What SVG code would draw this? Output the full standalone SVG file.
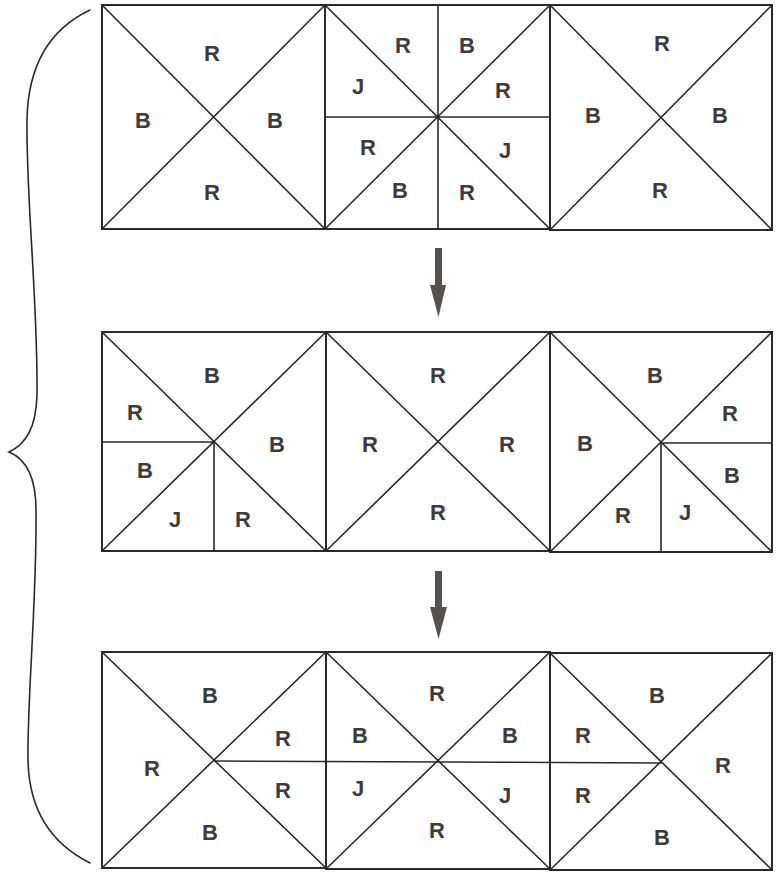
<svg xmlns="http://www.w3.org/2000/svg" width="781" height="874" viewBox="0 0 781 874">
<style>
.ln{stroke:#2a2a2a;stroke-width:1.6;fill:none;stroke-linecap:round}
.bd{stroke:#2a2a2a;stroke-width:2;fill:none}
.t{font-family:"Liberation Sans",Arial,sans-serif;font-weight:bold;font-size:22px;fill:#3c3c3c;text-anchor:middle}
.ar{fill:#565050}
</style>
<rect width="781" height="874" fill="#ffffff"/>
<g id="brace">
<path class="ln" stroke-width="2" d="M90,10 C52,28 28,62 27,120 C26,200 38,300 37,395 C36,428 26,444 9,452 C26,459 36,476 36,510 C37,600 27,700 28,760 C29,815 56,846 90,863"/>
</g>
<g id="row1">
<g id="r1s1">
<rect class="bd" x="102" y="5" width="223" height="224"/>
<path class="ln" d="M102,5 L325,229 M325,5 L102,229"/>
<text class="t" x="212" y="61">R</text>
<text class="t" x="143" y="128">B</text>
<text class="t" x="275" y="128">B</text>
<text class="t" x="212" y="200">R</text>
</g>
<g id="r1s2">
<rect class="bd" x="325" y="5" width="225" height="224"/>
<path class="ln" d="M325,5 L550,229 M550,5 L325,229 M438,5 L438,229 M325,117 L550,117"/>
<text class="t" x="403" y="53">R</text>
<text class="t" x="467" y="53">B</text>
<text class="t" x="358" y="94">J</text>
<text class="t" x="503" y="98">R</text>
<text class="t" x="368" y="155">R</text>
<text class="t" x="505" y="158">J</text>
<text class="t" x="400" y="198">B</text>
<text class="t" x="467" y="200">R</text>
</g>
<g id="r1s3">
<rect class="bd" x="550" y="5" width="222" height="225"/>
<path class="ln" d="M550,5 L772,230 M772,5 L550,230"/>
<text class="t" x="662" y="51">R</text>
<text class="t" x="593" y="123">B</text>
<text class="t" x="720" y="123">B</text>
<text class="t" x="660" y="198">R</text>
</g>
</g>
<g id="row2">
<g id="r2s1">
<rect class="bd" x="102" y="332" width="224" height="219"/>
<path class="ln" d="M102,332 L326,551 M326,332 L102,551 M102,442 L214,442 L214,551"/>
<text class="t" x="212" y="383">B</text>
<text class="t" x="135" y="420">R</text>
<text class="t" x="277" y="452">B</text>
<text class="t" x="145" y="478">B</text>
<text class="t" x="175" y="527">J</text>
<text class="t" x="243" y="527">R</text>
</g>
<g id="r2s2">
<rect class="bd" x="326" y="332" width="224" height="219"/>
<path class="ln" d="M326,332 L550,551 M550,332 L326,551"/>
<text class="t" x="438" y="383">R</text>
<text class="t" x="370" y="452">R</text>
<text class="t" x="507" y="452">R</text>
<text class="t" x="438" y="520">R</text>
</g>
<g id="r2s3">
<rect class="bd" x="550" y="332" width="222" height="220"/>
<path class="ln" d="M550,332 L772,552 M772,332 L550,552 M772,443 L661,443 L661,552"/>
<text class="t" x="655" y="383">B</text>
<text class="t" x="730" y="421">R</text>
<text class="t" x="585" y="451">B</text>
<text class="t" x="732" y="483">B</text>
<text class="t" x="623" y="523">R</text>
<text class="t" x="685" y="520">J</text>
</g>
</g>
<g id="row3">
<g id="r3s1">
<rect class="bd" x="102" y="652" width="224" height="216"/>
<path class="ln" d="M102,652 L326,868 M326,652 L102,868"/>
<text class="t" x="210" y="703">B</text>
<text class="t" x="283" y="746">R</text>
<text class="t" x="152" y="776">R</text>
<text class="t" x="283" y="798">R</text>
<text class="t" x="210" y="840">B</text>
</g>
<g id="r3s2">
<rect class="bd" x="326" y="652" width="224" height="217"/>
<path class="ln" d="M326,652 L550,869 M550,652 L326,869"/>
<text class="t" x="437" y="701">R</text>
<text class="t" x="360" y="743">B</text>
<text class="t" x="510" y="743">B</text>
<text class="t" x="358" y="796">J</text>
<text class="t" x="505" y="803">J</text>
<text class="t" x="437" y="838">R</text>
</g>
<g id="r3s3">
<rect class="bd" x="550" y="653" width="222" height="217"/>
<path class="ln" d="M550,653 L772,870 M772,653 L550,870"/>
<text class="t" x="657" y="703">B</text>
<text class="t" x="583" y="743">R</text>
<text class="t" x="723" y="773">R</text>
<text class="t" x="583" y="803">R</text>
<text class="t" x="662" y="845">B</text>
</g>
<path class="ln" d="M214,761 L661,763"/>
</g>
<g id="connectors">
<path class="ar" d="M435,248 L442,248 L442,285 L446,285 L438.5,317 L430,285 L435,285 Z"/>
<path class="ar" d="M435,571 L442,571 L442,607 L447,607 L438.5,639 L430,607 L435,607 Z"/>
</g>
</svg>
